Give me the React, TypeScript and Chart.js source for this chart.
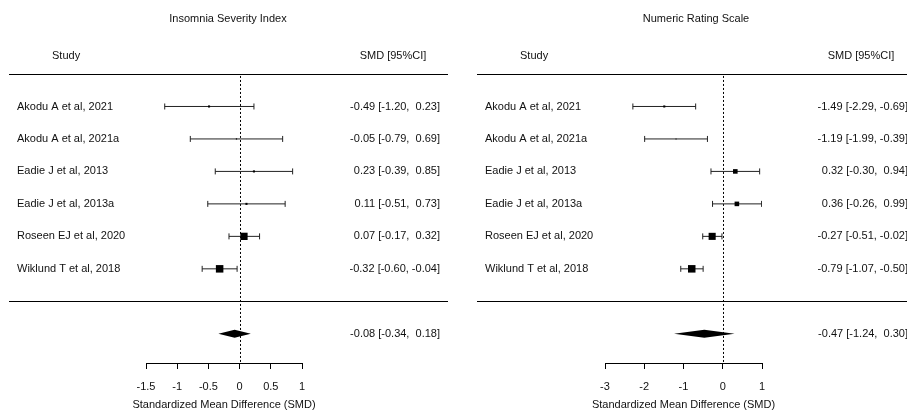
import React, { useEffect, useRef } from "react";
import { Chart, registerables } from "chart.js";

Chart.register(...registerables);

const studies = [
  "Akodu A et al, 2021",
  "Akodu A et al, 2021a",
  "Eadie J et al, 2013",
  "Eadie J et al, 2013a",
  "Roseen EJ et al, 2020",
  "Wiklund T et al, 2018",
];

// Insomnia Severity Index
const isiEst = [-0.49, -0.05, 0.23, 0.11, 0.07, -0.32];
const isiLo = [-1.2, -0.79, -0.39, -0.51, -0.17, -0.6];
const isiHi = [0.23, 0.69, 0.85, 0.73, 0.32, -0.04];
const isiWeights = [10, 6, 10, 10, 35, 36];
const isiSummary = [-0.08, -0.34, 0.18]; // est, lo, hi
const isiTicks = [-1.5, -1, -0.5, 0, 0.5, 1];

// Numeric Rating Scale
const nrsEst = [-1.49, -1.19, 0.32, 0.36, -0.27, -0.79];
const nrsLo = [-2.29, -1.99, -0.3, -0.26, -0.51, -1.07];
const nrsHi = [-0.69, -0.39, 0.94, 0.99, -0.02, -0.5];
const nrsWeights = [10, 5, 22, 22, 34, 36];
const nrsSummary = [-0.47, -1.24, 0.3];
const nrsTicks = [-3, -2, -1, 0, 1];

const axisTitle = "Standardized Mean Difference (SMD)";

const FONT = 'Arial, "Liberation Sans", sans-serif';
const FSIZE = 11;
const INK = "#111";

function fmt(v: number) {
  return v < 0 ? v.toFixed(2) : " " + v.toFixed(2);
}
function ciText(e: number, l: number, h: number) {
  return `${fmt(e)} [${fmt(l)}, ${fmt(h)}]`;
}

type PanelCfg = {
  title: string;
  est: number[];
  lo: number[];
  hi: number[];
  weights: number[];
  summary: number[];
  ticks: number[];
  width: number;
  left: number;
  padLeft: number;
  padRight: number;
  titleX: number;
  labelX: number;
  studyX: number;
  headerX: number;
  valueRight: number;
  lineX1: number;
  lineX2: number;
};

const panels: PanelCfg[] = [
  {
    title: "Insomnia Severity Index",
    est: isiEst,
    lo: isiLo,
    hi: isiHi,
    weights: isiWeights,
    summary: isiSummary,
    ticks: isiTicks,
    width: 453,
    left: 0,
    padLeft: 146,
    padRight: 151,
    titleX: 228,
    labelX: 17,
    studyX: 52,
    headerX: 393,
    valueRight: 440,
    lineX1: 9,
    lineX2: 448,
  },
  {
    title: "Numeric Rating Scale",
    est: nrsEst,
    lo: nrsLo,
    hi: nrsHi,
    weights: nrsWeights,
    summary: nrsSummary,
    ticks: nrsTicks,
    width: 454,
    left: 453,
    padLeft: 152,
    padRight: 145,
    titleX: 243,
    labelX: 32,
    studyX: 67,
    headerX: 408,
    valueRight: 455,
    lineX1: 24,
    lineX2: 454,
  },
];

function makePlugin(p: PanelCfg) {
  return {
    id: "forest",
    beforeDatasetsDraw(chart: any) {
      const { ctx, chartArea } = chart;
      const x = chart.scales.x;
      const y = chart.scales.y;
      ctx.save();
      ctx.strokeStyle = "#000";
      ctx.lineWidth = 1;
      // zero reference line
      const zx = Math.round(x.getPixelForValue(0)) + 0.5;
      ctx.setLineDash([2, 2]);
      ctx.beginPath();
      ctx.moveTo(zx, y.getPixelForValue(-0.94));
      ctx.lineTo(zx, chartArea.bottom);
      ctx.stroke();
      ctx.setLineDash([]);
      // separators
      for (const v of [-1, studies.length]) {
        const yy = Math.round(y.getPixelForValue(v)) + 0.5;
        ctx.beginPath();
        ctx.moveTo(p.lineX1, yy);
        ctx.lineTo(p.lineX2, yy);
        ctx.stroke();
      }
      // text
      ctx.fillStyle = INK;
      ctx.font = `${FSIZE}px ${FONT}`;
      ctx.textBaseline = "middle";
      ctx.textAlign = "center";
      ctx.fillText(p.title, p.titleX, 19);
      ctx.textAlign = "left";
      ctx.fillText("Study", p.studyX, 56);
      ctx.textAlign = "center";
      ctx.fillText("SMD [95%CI]", p.headerX, 56);
      studies.forEach((s, i) => {
        const yy = y.getPixelForValue(i);
        ctx.textAlign = "left";
        ctx.fillText(s, p.labelX, yy);
        ctx.textAlign = "right";
        ctx.fillText(ciText(p.est[i], p.lo[i], p.hi[i]), p.valueRight, yy);
      });
      const sy = y.getPixelForValue(studies.length + 1);
      ctx.textAlign = "right";
      ctx.fillText(ciText(p.summary[0], p.summary[1], p.summary[2]), p.valueRight, sy);
      // axis title (drawn here so it is not squeezed to the axis width)
      ctx.textAlign = "center";
      ctx.fillText(axisTitle, (chartArea.left + chartArea.right) / 2, 405);
      ctx.restore();
    },
    afterDatasetsDraw(chart: any) {
      const { ctx } = chart;
      const x = chart.scales.x;
      const y = chart.scales.y;
      const sy = y.getPixelForValue(studies.length + 1);
      const xe = x.getPixelForValue(p.summary[0]);
      const xl = x.getPixelForValue(p.summary[1]);
      const xh = x.getPixelForValue(p.summary[2]);
      const h = 4;
      ctx.save();
      ctx.fillStyle = "#000";
      ctx.beginPath();
      ctx.moveTo(xl, sy);
      ctx.lineTo(xe, sy - h);
      ctx.lineTo(xh, sy);
      ctx.lineTo(xe, sy + h);
      ctx.closePath();
      ctx.fill();
      ctx.restore();
    },
  };
}

function Panel({ p }: { p: PanelCfg }) {
  const ref = useRef<HTMLCanvasElement | null>(null);
  useEffect(() => {
    if (!ref.current) return;
    const maxW = Math.max(...p.weights);
    const radii = p.weights.map((w) => Math.max(0.7, (7.5 * w) / maxW / Math.SQRT2));
    const squares = {
      type: "scatter",
      data: p.est.map((e, i) => ({ x: e, y: i })),
      pointStyle: "rect",
      pointRadius: radii,
      pointHoverRadius: radii,
      backgroundColor: "#000",
      borderWidth: 0,
      pointBorderWidth: 0,
      showLine: false,
    };
    const ciSets = p.est.map((_, i) => ({
      type: "scatter",
      data: [
        { x: p.lo[i], y: i },
        { x: p.hi[i], y: i },
      ],
      showLine: true,
      borderColor: "#222",
      borderWidth: 1,
      pointStyle: "line",
      rotation: 90,
      pointRadius: 3,
      pointHoverRadius: 3,
      pointBorderColor: "#222",
      pointBorderWidth: 1,
      backgroundColor: "#222",
    }));
    const chart = new Chart(ref.current, {
      type: "scatter",
      data: { datasets: [squares, ...ciSets] as any },
      plugins: [makePlugin(p)],
      options: {
        animation: false,
        responsive: false,
        events: [],
        layout: { padding: { left: p.padLeft, right: p.padRight, top: 74, bottom: 7 } },
        plugins: { legend: { display: false }, tooltip: { enabled: false } },
        scales: {
          x: {
            type: "linear",
            min: p.ticks[0],
            max: p.ticks[p.ticks.length - 1],
            afterBuildTicks: (s: any) => {
              s.ticks = p.ticks.map((value) => ({ value }));
            },
            grid: { drawOnChartArea: false, drawTicks: true, tickLength: 6, color: "#000", lineWidth: 1 },
            border: { display: true, color: "#000", width: 1 },
            ticks: {
              color: INK,
              font: { family: FONT, size: FSIZE },
              padding: 11.4,
              maxRotation: 0,
              autoSkip: false,
              callback: (v: any) => String(v),
            },
            title: { display: false },
          },
          y: { type: "linear", display: false, min: -1, max: 7.9, reverse: true },
        },
      } as any,
    });
    return () => chart.destroy();
  }, [p]);
  return (
    <canvas
      ref={ref}
      width={p.width}
      height={412}
      style={{ position: "absolute", left: p.left, top: 0, width: p.width, height: 412 }}
    />
  );
}

export default function App() {
  return (
    <div style={{ position: "absolute", left: 0, top: 0, width: 907, height: 412, background: "#fff", overflow: "hidden" }}>
      {panels.map((p) => (
        <Panel key={p.title} p={p} />
      ))}
    </div>
  );
}
